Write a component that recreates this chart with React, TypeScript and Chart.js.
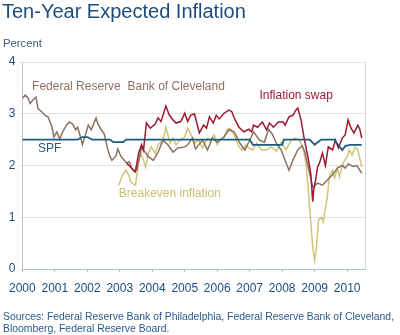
import React, { useEffect, useRef } from "react";
import { Chart, registerables } from "chart.js";

Chart.register(...registerables);

const FONT = "'Liberation Sans', Arial, Helvetica, sans-serif";

// ---- data (decimal year, percent) ----
const clevelandX = [2000.0, 2000.09, 2000.18, 2000.24, 2000.33, 2000.42, 2000.48, 2000.61, 2000.7, 2000.79, 2000.91, 2000.97, 2001.06, 2001.15, 2001.24, 2001.36, 2001.45, 2001.55, 2001.64, 2001.7, 2001.79, 2001.85, 2001.97, 2002.03, 2002.12, 2002.18, 2002.27, 2002.33, 2002.42, 2002.52, 2002.61, 2002.7, 2002.76, 2002.88, 2002.94, 2003.03, 2003.15, 2003.21, 2003.3, 2003.36, 2003.45, 2003.52, 2003.67, 2003.79, 2003.88, 2004.03, 2004.18, 2004.33, 2004.48, 2004.64, 2004.79, 2005.0, 2005.09, 2005.24, 2005.33, 2005.55, 2005.7, 2005.85, 2006.0, 2006.21, 2006.36, 2006.52, 2006.7, 2006.85, 2006.97, 2007.12, 2007.3, 2007.45, 2007.58, 2007.7, 2007.82, 2007.97, 2008.12, 2008.21, 2008.33, 2008.48, 2008.61, 2008.7, 2008.82, 2008.94, 2009.09, 2009.24, 2009.39, 2009.55, 2009.7, 2009.85, 2009.94, 2010.03, 2010.18, 2010.3, 2010.45];
const clevelandY = [3.3, 3.36, 3.3, 3.2, 3.27, 3.32, 3.1, 3.03, 2.97, 2.94, 2.75, 2.55, 2.65, 2.51, 2.65, 2.78, 2.84, 2.8, 2.69, 2.74, 2.55, 2.4, 2.65, 2.78, 2.69, 2.78, 2.92, 2.8, 2.7, 2.61, 2.36, 2.17, 2.1, 2.18, 2.32, 2.18, 2.09, 2.05, 2.07, 1.95, 1.88, 1.91, 2.34, 2.25, 2.17, 2.1, 2.26, 2.49, 2.4, 2.26, 2.34, 2.36, 2.4, 2.53, 2.32, 2.49, 2.3, 2.53, 2.45, 2.55, 2.69, 2.65, 2.43, 2.3, 2.45, 2.65, 2.49, 2.45, 2.7, 2.6, 2.43, 2.3, 2.05, 1.91, 2.1, 2.3, 2.38, 2.26, 1.91, 1.58, 1.66, 1.62, 1.72, 1.82, 1.95, 2.0, 1.95, 2.03, 1.98, 2.0, 1.85];

const swapX = [2003.21, 2003.36, 2003.48, 2003.58, 2003.67, 2003.73, 2003.82, 2003.94, 2004.09, 2004.18, 2004.27, 2004.42, 2004.52, 2004.64, 2004.73, 2004.88, 2005.0, 2005.09, 2005.18, 2005.3, 2005.45, 2005.58, 2005.67, 2005.76, 2005.88, 2005.97, 2006.06, 2006.21, 2006.36, 2006.45, 2006.55, 2006.67, 2006.82, 2006.97, 2007.06, 2007.12, 2007.24, 2007.39, 2007.52, 2007.61, 2007.73, 2007.88, 2008.03, 2008.09, 2008.21, 2008.33, 2008.42, 2008.48, 2008.58, 2008.67, 2008.79, 2008.88, 2008.94, 2008.97, 2009.03, 2009.09, 2009.15, 2009.24, 2009.33, 2009.42, 2009.55, 2009.64, 2009.73, 2009.85, 2009.94, 2010.03, 2010.12, 2010.21, 2010.33, 2010.39, 2010.45];
const swapY = [2.05, 1.95, 1.88, 2.24, 2.4, 2.3, 2.82, 2.72, 2.8, 2.92, 2.85, 3.15, 2.98, 2.88, 2.82, 2.85, 3.01, 2.85, 2.97, 3.0, 2.63, 2.78, 2.72, 2.94, 2.82, 2.97, 2.9, 3.01, 3.07, 3.04, 2.88, 2.74, 2.65, 2.7, 2.65, 2.78, 2.74, 2.84, 2.69, 2.82, 2.74, 2.84, 2.84, 2.78, 2.94, 2.97, 3.07, 3.11, 2.88, 2.55, 2.17, 1.85, 1.3, 1.53, 1.72, 1.97, 2.05, 2.24, 2.0, 2.36, 2.3, 2.49, 2.34, 2.53, 2.59, 2.88, 2.72, 2.63, 2.78, 2.7, 2.53];

const breakevenX = [2002.97, 2003.06, 2003.18, 2003.27, 2003.36, 2003.48, 2003.52, 2003.58, 2003.64, 2003.73, 2003.79, 2003.88, 2003.97, 2004.09, 2004.18, 2004.33, 2004.42, 2004.55, 2004.64, 2004.73, 2004.85, 2005.0, 2005.09, 2005.18, 2005.3, 2005.42, 2005.55, 2005.7, 2005.79, 2005.91, 2006.0, 2006.09, 2006.21, 2006.3, 2006.39, 2006.52, 2006.67, 2006.76, 2006.88, 2006.97, 2007.09, 2007.21, 2007.36, 2007.52, 2007.67, 2007.82, 2007.97, 2008.12, 2008.27, 2008.42, 2008.52, 2008.64, 2008.73, 2008.82, 2008.88, 2008.94, 2009.0, 2009.06, 2009.12, 2009.21, 2009.27, 2009.33, 2009.39, 2009.45, 2009.55, 2009.61, 2009.7, 2009.76, 2009.88, 2010.0, 2010.06, 2010.15, 2010.24, 2010.33, 2010.45];
const breakevenY = [1.62, 1.78, 1.91, 1.82, 1.66, 1.62, 1.78, 2.05, 2.24, 2.1, 1.97, 2.24, 2.36, 2.24, 2.4, 2.49, 2.74, 2.43, 2.53, 2.4, 2.49, 2.55, 2.72, 2.62, 2.43, 2.49, 2.34, 2.53, 2.49, 2.59, 2.4, 2.49, 2.55, 2.69, 2.72, 2.59, 2.36, 2.3, 2.4, 2.34, 2.3, 2.43, 2.3, 2.3, 2.36, 2.28, 2.45, 2.3, 2.49, 2.53, 2.49, 2.36, 2.05, 1.4, 0.9, 0.43, 0.17, 0.43, 0.95, 1.0, 0.91, 1.18, 1.39, 1.78, 1.91, 1.76, 1.95, 1.78, 2.05, 2.17, 2.3, 2.2, 2.36, 2.3, 1.97];

const spfX = [2000.0, 2001.7, 2001.85, 2002.0, 2002.15, 2002.7, 2002.8, 2003.1, 2003.2, 2007.0, 2007.1, 2008.0, 2008.05, 2008.85, 2009.0, 2009.2, 2009.6, 2009.85, 2009.95, 2010.1, 2010.45];
const spfY = [2.5, 2.5, 2.55, 2.55, 2.5, 2.5, 2.45, 2.45, 2.5, 2.5, 2.4, 2.4, 2.5, 2.5, 2.4, 2.5, 2.5, 2.3, 2.38, 2.4, 2.4];

const xTickYears = [2000, 2001, 2002, 2003, 2004, 2005, 2006, 2007, 2008, 2009, 2010];
const yTickValues = [0, 1, 2, 3, 4];

const seriesLabels = [
  { text: "Federal Reserve  Bank of Cleveland", x: 2000.3, y: 3.52, color: "#8C7262" },
  { text: "Inflation swap", x: 2007.3, y: 3.34, color: "#9E1B34" },
  { text: "SPF", x: 2000.48, y: 2.32, color: "#1D5B80" },
  { text: "Breakeven inflation", x: 2002.97, y: 1.45, color: "#C9BF6A" },
];

const TEXT_BLUE = "#1D4C7C";

function pts(xs: number[], ys: number[]) {
  return xs.map((x, i) => ({ x, y: ys[i] }));
}

const labelsPlugin = {
  id: "inlineLabels",
  afterDatasetsDraw(chart: any) {
    const { ctx, scales } = chart;
    ctx.save();
    ctx.font = `12px ${FONT}`;
    ctx.textBaseline = "middle";
    ctx.textAlign = "left";
    for (const l of seriesLabels) {
      ctx.fillStyle = l.color;
      ctx.fillText(l.text, scales.x.getPixelForValue(l.x), scales.y.getPixelForValue(l.y));
    }
    // right border of plot
    const a = chart.chartArea;
    ctx.strokeStyle = "#D9D9D9";
    ctx.lineWidth = 1;
    ctx.beginPath();
    ctx.moveTo(Math.round(a.right) + 0.5, a.top);
    ctx.lineTo(Math.round(a.right) + 0.5, a.bottom);
    ctx.stroke();
    ctx.restore();
  },
};

export default function App() {
  const ref = useRef<HTMLCanvasElement | null>(null);

  useEffect(() => {
    if (!ref.current) return;
    const line = (data: any, color: string, width: number) => ({
      data,
      borderColor: color,
      backgroundColor: color,
      borderWidth: width,
      pointRadius: 0,
      tension: 0,
      fill: false,
    });
    const chart = new Chart(ref.current, {
      type: "line",
      data: {
        datasets: [
          line(pts(spfX, spfY), "#1D5B80", 1.8),
          line(pts(swapX, swapY), "#A0192F", 1.5),
          line(pts(clevelandX, clevelandY), "#8C7262", 1.5),
          line(pts(breakevenX, breakevenY), "#CFC579", 1.5),
        ] as any,
      },
      options: {
        animation: false,
        responsive: false,
        maintainAspectRatio: false,
        parsing: false as any,
        layout: { padding: { left: 0, right: 35, top: 62, bottom: 0 } },
        plugins: { legend: { display: false }, tooltip: { enabled: false }, title: { display: false } },
        scales: {
          x: {
            type: "linear",
            min: 2000,
            max: 2010.55,
            afterBuildTicks: (s: any) => {
              s.ticks = xTickYears.map((v) => ({ value: v }));
            },
            afterFit: (s: any) => {
              s.height = 66;
            },
            grid: { drawOnChartArea: false, drawTicks: true, tickLength: 3, color: "#A9C1D6" },
            border: { color: "#A9C1D6", width: 1 },
            ticks: {
              autoSkip: false,
              maxRotation: 0,
              padding: 9,
              color: TEXT_BLUE,
              font: { size: 12, family: FONT },
              callback: (v: any) => String(v),
            },
          },
          y: {
            type: "linear",
            min: 0,
            max: 4,
            afterBuildTicks: (s: any) => {
              s.ticks = yTickValues.map((v) => ({ value: v }));
            },
            afterFit: (s: any) => {
              s.width = 17;
            },
            grid: { color: "#E2E2E2", drawTicks: true, tickLength: 3 },
            border: { color: "#BCC6CF", width: 1 },
            ticks: {
              padding: 4,
              color: TEXT_BLUE,
              font: { size: 12, family: FONT },
              callback: (v: any) => String(v),
            },
          },
        },
      },
      plugins: [labelsPlugin],
    });
    return () => chart.destroy();
  }, []);

  return (
    <div style={{ position: "absolute", left: 0, top: 0, width: 400, height: 335, background: "#fff", fontFamily: FONT, overflow: "hidden" }}>
      <canvas ref={ref} width={400} height={335} style={{ position: "absolute", left: 0, top: 0, width: 400, height: 335 }} />
      <div style={{ position: "absolute", left: 2, top: 1, fontSize: 20, lineHeight: "20px", color: TEXT_BLUE, whiteSpace: "nowrap" }}>
        Ten-Year Expected Inflation
      </div>
      <div style={{ position: "absolute", left: 3, top: 36.6, fontSize: 11.3, lineHeight: "13px", color: "#3A5876", whiteSpace: "nowrap" }}>
        Percent
      </div>
      <div style={{ position: "absolute", left: 3, top: 311, fontSize: 10.4, lineHeight: "12px", color: "#2A5A8C", whiteSpace: "nowrap" }}>
        <div>Sources: Federal Reserve Bank of Philadelphia, Federal Reserve Bank of Cleveland,</div>
        <div>Bloomberg, Federal Reserve Board.</div>
      </div>
    </div>
  );
}
